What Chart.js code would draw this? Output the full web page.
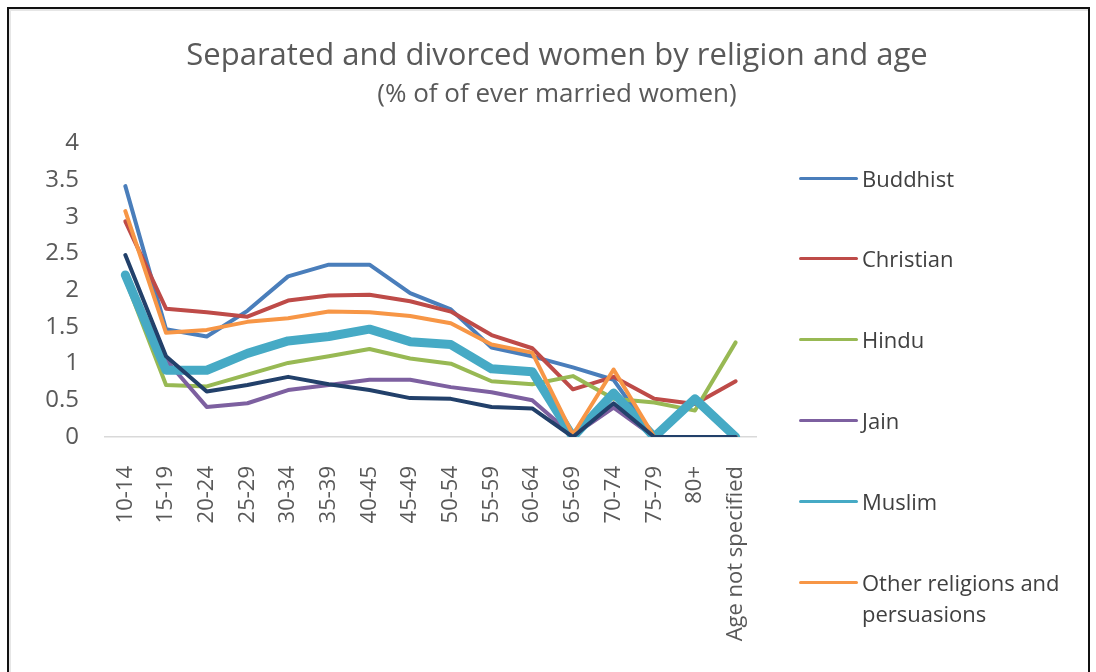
<!DOCTYPE html>
<html>
<head>
<meta charset="utf-8">
<script src="https://cdn.jsdelivr.net/npm/chart.js@4"></script>
<style>
  body { margin: 0; background: #fff; }
  #wrap { position: relative; width: 1096px; height: 672px; overflow: hidden; }
  #frame { position: absolute; left: 7px; top: 7px; width: 1079px; height: 700px;
           border: 2px solid #111; box-shadow: inset 2px 2px 0 #e6e6e6; }
  #myChart { position: absolute; left: 0; top: 0; }
  .leg { position: absolute; left: 799px; font-family: "Open Sans", sans-serif;
         font-size: 22px; color: #404040; }
  .leg .ln { position: absolute; left: 0; width: 59px; height: 3px; border-radius: 2px; }
  .leg .tx { position: absolute; left: 63px; width: 230px; line-height: 31px; }
</style>
</head>
<body>
<div id="wrap">
  <div id="frame"></div>
  <canvas id="myChart" width="1096" height="672"></canvas>
</div>
<script>
// categorias de edad
var ageGroups = ["10-14", "15-19", "20-24", "25-29", "30-34", "35-39", "40-45", "45-49",
  "50-54", "55-59", "60-64", "65-69", "70-74", "75-79", "80+", "Age not specified"];

// valores (% de mujeres alguna vez casadas)
var buddhist  = [3.42, 1.47, 1.37, 1.72, 2.19, 2.35, 2.35, 1.96, 1.74, 1.22, 1.10, 0.95, 0.78, 0, 0, 0];
var christian = [2.94, 1.75, 1.70, 1.64, 1.86, 1.93, 1.94, 1.85, 1.71, 1.39, 1.21, 0.65, 0.82, 0.52, 0.45, 0.76];
var hindu     = [2.15, 0.71, 0.69, 0.85, 1.01, 1.10, 1.20, 1.07, 1.00, 0.76, 0.72, 0.83, 0.52, 0.47, 0.36, 1.29];
var jain      = [2.20, 1.05, 0.41, 0.46, 0.64, 0.71, 0.78, 0.78, 0.68, 0.61, 0.50, 0.02, 0.40, 0, 0, 0];
var muslim    = [2.21, 0.91, 0.91, 1.14, 1.31, 1.37, 1.47, 1.30, 1.26, 0.93, 0.89, 0, 0.60, 0, 0.52, 0];
var other     = [3.08, 1.42, 1.46, 1.57, 1.62, 1.71, 1.70, 1.65, 1.55, 1.26, 1.15, 0.03, 0.92, 0, 0, 0];
var sikh      = [2.48, 1.10, 0.62, 0.71, 0.82, 0.72, 0.64, 0.53, 0.52, 0.41, 0.39, 0, 0.46, 0, 0, 0];

var seriesNames = ["Buddhist", "Christian", "Hindu", "Jain", "Muslim", "Other religions and persuasions", "Sikh"];
var seriesData = [buddhist, christian, hindu, jain, muslim, other, sikh];
var seriesColors = ["#4a7ebb", "#be4b48", "#98b954", "#7d60a0", "#46aac5", "#f79646", "#22406a"];
var seriesWidths = [4, 4, 4, 4, 9, 4, 4];
var legendCount = 6; // la serie azul oscura no aparece en la leyenda original

var fontFamily = "'Open Sans', sans-serif";

// armamos los datasets (order negativo para que la ultima serie quede encima, como en Excel)
var datasets = seriesNames.map(function (name, i) {
  return {
    label: name,
    data: seriesData[i],
    borderColor: seriesColors[i],
    backgroundColor: seriesColors[i],
    borderWidth: seriesWidths[i],
    pointRadius: 0,
    tension: 0,
    borderCapStyle: "round",
    borderJoinStyle: "round",
    order: -i,
  };
});

const ctx = document.getElementById("myChart").getContext("2d");
const myChart = new Chart(ctx, {
  type: "line",
  data: { labels: ageGroups, datasets: datasets },
  options: {
    responsive: false,
    animation: false,
    layout: { padding: { left: 18, right: 0, top: 0, bottom: 0 } },
    plugins: {
      legend: { display: false },
      tooltip: { enabled: false },
      title: {
        display: true,
        text: "Separated and divorced women by religion and age",
        color: "#595959",
        font: { family: fontFamily, size: 31, weight: "normal" },
        padding: { top: 37.4, bottom: 0 },
      },
      subtitle: {
        display: true,
        text: "(% of of ever married women)",
        color: "#595959",
        font: { family: fontFamily, size: 26, weight: "normal" },
        padding: { top: 4.8, bottom: 33 },
      },
    },
    scales: {
      x: {
        offset: true,
        grid: { display: false, drawTicks: false },
        border: { display: true, color: "#d9d9d9", width: 1.5 },
        ticks: {
          autoSkip: false,
          maxRotation: 90,
          minRotation: 90,
          padding: 29,
          color: "#595959",
          font: { family: fontFamily, size: 22 },
        },
        afterFit: function (scale) {
          scale.height = 235;
        },
      },
      y: {
        min: 0,
        max: 4,
        grid: { display: false, drawTicks: false },
        border: { display: false },
        ticks: {
          stepSize: 0.5,
          padding: 26,
          color: "#595959",
          font: { family: fontFamily, size: 24 },
          callback: function (value) {
            return String(value);
          },
        },
        afterFit: function (scale) {
          scale.width = 87;
        },
      },
      // eje vacio a la derecha para dejar el espacio de la leyenda
      yRight: {
        position: "right",
        display: true,
        min: 0,
        max: 1,
        grid: { display: false, drawTicks: false },
        border: { display: false },
        ticks: { display: false },
        afterFit: function (scale) {
          scale.width = 340;
        },
      },
    },
  },
});

// leyenda en HTML (para poder partir el ultimo texto en dos lineas)
var wrap = document.getElementById("wrap");
for (var i = 0; i < legendCount; i++) {
  var cy = 178 + i * 80.8;
  var item = document.createElement("div");
  item.className = "leg";
  item.style.top = cy + "px";
  var ln = document.createElement("div");
  ln.className = "ln";
  ln.style.top = "-1.5px";
  ln.style.background = seriesColors[i];
  var tx = document.createElement("div");
  tx.className = "tx";
  tx.style.top = "-15.5px";
  tx.textContent = seriesNames[i];
  item.appendChild(ln);
  item.appendChild(tx);
  wrap.appendChild(item);
}
</script>
</body>
</html>
